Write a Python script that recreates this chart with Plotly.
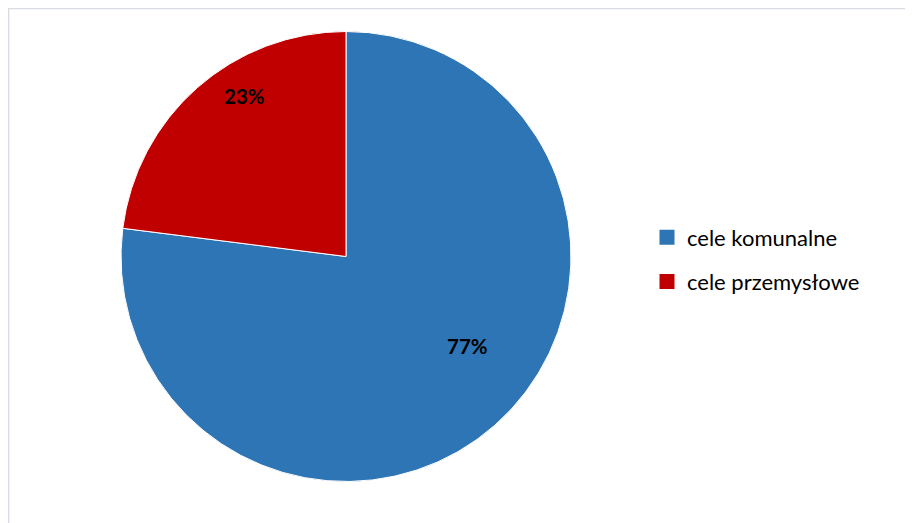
import math
import plotly.graph_objects as go

labels = ["cele komunalne", "cele przemysłowe"]
values = [77, 23]
colors = ["#2E75B6", "#C00000"]

# label placement style (fraction of radius, angular nudge in degrees)
label_r = [0.672, 0.843]
label_dang = [-12.3, 9.2]

W, H = 913, 523
OFF = 8  # page body margin
cx, cy, r = 346 - OFF, 256.5 - OFF, 225

fig = go.Figure()
fig.add_trace(go.Pie(
    labels=labels,
    values=values,
    sort=False,
    direction="clockwise",
    rotation=0,
    marker=dict(colors=colors, line=dict(color="white", width=1)),
    textinfo="none",
    domain=dict(x=[(cx - r) / W, (cx + r) / W], y=[1 - (cy + r) / H, 1 - (cy - r) / H]),
    hoverinfo="label+percent",
    showlegend=False,
))

# legend entries via dummy traces (one group each so spacing can be set)
for lab, col in zip(labels, colors):
    fig.add_trace(go.Scatter(
        x=[None], y=[None], mode="markers", name=lab,
        marker=dict(symbol="square", size=15, color=col),
        legendgroup=lab, showlegend=True, hoverinfo="skip",
    ))

# percentage labels computed from values
total = sum(values)
annotations = []
start = 0.0
for v, lr, da in zip(values, label_r, label_dang):
    mid = (start + v / 2) / total * 360 + da
    start += v
    a = math.radians(mid)
    x = cx + lr * r * math.sin(a)
    y = cy - lr * r * math.cos(a)
    annotations.append(dict(
        x=x / W, y=1 - y / H, xref="paper", yref="paper",
        text=f"<b>{round(v / total * 100)}%</b>", showarrow=False,
        xanchor="center", yanchor="middle",
        font=dict(family="Lato", size=20.5, color="black"),
    ))

fig.update_layout(
    width=W, height=H,
    margin=dict(l=0, r=0, t=0, b=0),
    paper_bgcolor="white",
    plot_bgcolor="white",
    xaxis=dict(visible=False),
    yaxis=dict(visible=False),
    showlegend=True,
    legend=dict(
        x=639 / W, y=1 - 208.5 / H, xanchor="left", yanchor="top",
        font=dict(family="Lato", size=22, color="#000000"),
        itemwidth=30,
        tracegroupgap=12.5,
        bgcolor="rgba(0,0,0,0)",
    ),
    annotations=annotations,
    shapes=[dict(type="rect", xref="paper", yref="paper",
                 x0=0.6 / W, x1=1.05, y0=-0.05, y1=1 - 0.6 / H,
                 line=dict(color="#D9DDE3", width=1.5), fillcolor="rgba(0,0,0,0)")],
)

fig.write_html("out.html")
